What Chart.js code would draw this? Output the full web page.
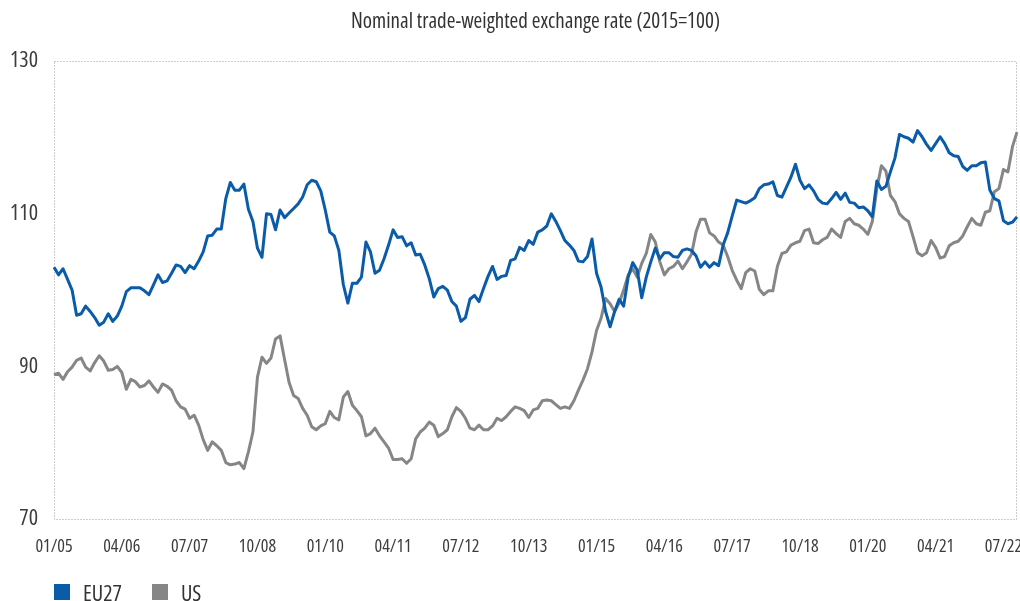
<!DOCTYPE html>
<html>
<head>
<meta charset="utf-8">
<script src="https://cdn.jsdelivr.net/npm/chart.js@4.4.1/dist/chart.umd.min.js"></script>
<style>
  body { margin: 0; background: #fff; }
  #wrap { position: relative; width: 1020px; height: 601px; }
  #legendContainer { position: absolute; left: 54px; top: 577px; }
  .listContainer { display: flex; margin: 0; padding: 0; list-style: none; }
  .legendElement { display: flex; align-items: center; margin-right: 30px; }
  .boxSpan { display: inline-block; width: 16px; height: 16px; margin-right: 13px; }
  .textElement { margin: 0; font-family: "Open Sans", sans-serif; font-stretch: condensed; font-size: 22px; color: #333; }
</style>
</head>
<body>
<div id="wrap">
  <canvas id="fx_chart"></canvas>
  <div id="legendContainer"></div>
</div>
<script>
const months = [];
for (let yr = 5; yr <= 22; yr++) {
  for (let m = 1; m <= 12; m++) {
    if (yr === 22 && m > 10) break;
    months.push(String(m).padStart(2, '0') + '/' + String(yr).padStart(2, '0'));
  }
}

const tickLabels = ['01/05', '04/06', '07/07', '10/08', '01/10', '04/11', '07/12', '10/13',
  '01/15', '04/16', '07/17', '10/18', '01/20', '04/21', '07/22'];
const yTicks = [70, 90, 110, 130];

const eu27 = [
  103.0, 102.0, 102.8, 101.4, 100.0, 96.7, 96.9, 97.9, 97.2, 96.4, 95.4, 95.8,
  96.9, 95.9, 96.6, 97.9, 99.8, 100.3, 100.3, 100.3, 99.9, 99.4, 100.7, 102.0,
  101.0, 101.2, 102.2, 103.3, 103.1, 102.3, 103.2, 102.8, 103.8, 105.0, 107.1, 107.2,
  108.0, 108.0, 112.0, 114.1, 113.1, 113.1, 113.9, 110.6, 109.0, 105.5, 104.3, 110.0,
  109.9, 107.9, 110.5, 109.5, 110.1, 110.7, 111.3, 112.2, 113.8, 114.4, 114.2, 113.0,
  110.5, 107.6, 107.1, 105.2, 100.7, 98.3, 100.9, 100.9, 101.7, 106.3, 105.0, 102.2,
  102.6, 104.1, 105.9, 107.9, 106.9, 107.0, 105.8, 106.2, 104.6, 104.7, 103.3, 101.5,
  99.1, 100.2, 100.5, 100.0, 98.5, 97.9, 95.9, 96.4, 98.8, 99.3, 98.5, 100.2,
  101.8, 103.1, 101.4, 101.8, 101.9, 103.9, 104.1, 105.6, 105.2, 106.5, 106.0, 107.6,
  107.9, 108.4, 110.0, 109.0, 107.8, 106.5, 105.9, 105.2, 103.8, 103.7, 104.4, 106.7,
  102.2, 100.4, 97.2, 95.2, 97.2, 98.8, 97.9, 101.7, 103.6, 102.6, 99.0, 101.7,
  103.7, 105.5, 104.1, 104.9, 104.9, 104.4, 104.3, 105.2, 105.4, 105.2, 104.5, 103.0,
  103.7, 103.0, 103.6, 103.2, 105.9, 107.5, 109.7, 111.8, 111.6, 111.4, 111.7, 112.1,
  113.3, 113.8, 113.9, 114.2, 112.4, 112.2, 113.5, 114.8, 116.5, 114.4, 113.3, 113.8,
  113.0, 111.9, 111.4, 111.3, 112.0, 112.8, 111.9, 112.7, 111.5, 111.4, 110.8, 110.9,
  110.4, 109.6, 114.3, 113.2, 113.6, 115.5, 117.3, 120.4, 120.1, 119.9, 119.4, 120.9,
  120.1, 119.1, 118.3, 119.2, 120.1, 119.2, 118.0, 117.6, 117.5, 116.2, 115.7, 116.3,
  116.3, 116.7, 116.8, 113.1, 112.0, 111.7, 109.1, 108.7, 108.9, 109.6
];

const us = [
  88.9, 89.1, 88.3, 89.3, 89.9, 90.8, 91.1, 89.9, 89.4, 90.5, 91.4, 90.7,
  89.5, 89.6, 90.0, 89.2, 87.0, 88.3, 88.0, 87.3, 87.5, 88.1, 87.3, 86.6,
  87.7, 87.4, 86.9, 85.5, 84.7, 84.4, 83.2, 83.6, 82.3, 80.4, 79.0, 80.1,
  79.6, 79.0, 77.4, 77.1, 77.2, 77.4, 76.6, 78.8, 81.4, 88.6, 91.2, 90.4,
  91.1, 93.6, 94.0, 90.9, 87.9, 86.2, 85.8, 84.5, 83.6, 82.1, 81.7, 82.2,
  82.5, 84.1, 83.3, 83.0, 86.0, 86.7, 84.9, 84.2, 83.4, 80.9, 81.2, 81.9,
  80.9, 80.1, 79.3, 77.8, 77.8, 77.9, 77.3, 77.9, 80.5, 81.4, 81.9, 82.7,
  82.3, 80.8, 81.2, 81.7, 83.4, 84.6, 84.1, 83.2, 81.9, 81.7, 82.3, 81.7,
  81.7, 82.2, 83.2, 82.9, 83.4, 84.1, 84.7, 84.5, 84.2, 83.3, 84.3, 84.5,
  85.5, 85.6, 85.5, 85.0, 84.5, 84.7, 84.5, 85.5, 86.9, 88.2, 89.7, 91.9,
  94.7, 96.3, 98.9, 98.2, 97.2, 98.3, 100.0, 102.0, 102.8, 101.7, 103.5, 104.8,
  107.3, 106.3, 103.7, 102.0, 102.8, 103.1, 103.8, 102.8, 103.7, 104.7, 107.6, 109.3,
  109.3, 107.5, 107.1, 106.3, 105.9, 104.4, 102.6, 101.3, 100.2, 102.3, 102.8, 102.5,
  100.1, 99.4, 99.9, 99.9, 103.1, 104.8, 105.0, 105.9, 106.2, 106.4, 107.8, 108.0,
  106.2, 106.1, 106.6, 106.9, 108.0, 107.4, 106.9, 109.0, 109.4, 108.7, 108.5, 108.0,
  107.3, 109.0, 113.3, 116.3, 115.6, 112.4, 111.6, 110.0, 109.4, 109.0, 107.0, 104.9,
  104.5, 104.9, 106.5, 105.6, 104.2, 104.4, 105.8, 106.2, 106.4, 107.1, 108.3, 109.4,
  108.7, 108.5, 110.2, 110.4, 112.9, 113.3, 115.8, 115.5, 118.8, 120.7
];

const seriesNames = ['EU27', 'US'];
const seriesColors = ['#0a5ca8', '#868688'];

// "condensed" goes in front of the size in the canvas font string
const FONT = { family: '"Open Sans", sans-serif', weight: 'condensed' };

// dotted frame around the plot area
const plotFrame = {
  id: 'plotFrame',
  beforeDatasetsDraw(chart) {
    const { ctx, chartArea: a } = chart;
    ctx.save();
    ctx.strokeStyle = '#9a9a9a';
    ctx.lineWidth = 1;
    ctx.setLineDash([1, 2]);
    ctx.strokeRect(Math.round(a.left) + 0.5, Math.round(a.top) + 0.5,
      Math.round(a.right - a.left) - 1, Math.round(a.bottom - a.top));
    ctx.restore();
  }
};

const htmlLegendPlugin = {
  id: 'htmlLegend',
  afterUpdate(chart, args, options) {
    const box = document.getElementById(options.containerID);
    let ul = box.querySelector('ul');
    if (!ul) {
      ul = document.createElement('ul');
      ul.className = 'listContainer';
      box.appendChild(ul);
    }
    while (ul.firstChild) ul.firstChild.remove();

    const items = chart.options.plugins.legend.labels.generateLabels(chart);
    items.forEach(item => {
      const li = document.createElement('li');
      li.className = 'legendElement';
      const sq = document.createElement('span');
      sq.className = 'boxSpan';
      sq.style.backgroundColor = item.strokeStyle;
      const text = document.createElement('p');
      text.className = 'textElement';
      text.appendChild(document.createTextNode(item.text));
      li.appendChild(sq);
      li.appendChild(text);
      ul.appendChild(li);
    });
  }
};

const fx_chart = new Chart(document.getElementById('fx_chart'), {
  type: 'line',
  data: {
    labels: months,
    datasets: [
      { label: seriesNames[0], data: eu27, borderColor: seriesColors[0], backgroundColor: seriesColors[0] },
      { label: seriesNames[1], data: us, borderColor: seriesColors[1], backgroundColor: seriesColors[1] }
    ]
  },
  options: {
    responsive: true,
    maintainAspectRatio: false,
    animation: false,
    layout: { padding: { top: 0, right: 3, bottom: 39, left: 0 } },
    elements: {
      line: { borderWidth: 3, tension: 0, borderJoinStyle: 'round' },
      point: { radius: 0 }
    },
    plugins: {
      legend: { display: false },
      tooltip: { enabled: false },
      htmlLegend: { containerID: 'legendContainer' },
      title: {
        display: true,
        fullSize: false,
        text: 'Nominal trade-weighted exchange rate (2015=100)',
        color: '#333',
        font: { ...FONT, size: 21 },
        padding: { top: 9, bottom: 27 }
      }
    },
    scales: {
      x: {
        offset: false,
        afterFit(scale) {
          scale.height = 43;
          scale.paddingLeft = 0;
          scale.paddingRight = 0;
        },
        grid: { display: false, drawTicks: false },
        border: { display: false },
        ticks: {
          autoSkip: false,
          maxRotation: 0,
          minRotation: 0,
          padding: 17,
          color: '#3d3d3d',
          font: { ...FONT, size: 18 },
          callback: function (val) {
            const lbl = this.getLabelForValue(val);
            return tickLabels.includes(lbl) ? lbl : '';
          }
        }
      },
      y: {
        min: 70,
        max: 130,
        afterBuildTicks(scale) {
          scale.ticks = yTicks.map(v => ({ value: v }));
        },
        afterFit(scale) {
          scale.width = 54;
        },
        grid: { display: false, drawTicks: false },
        border: { display: false },
        ticks: {
          padding: 16,
          color: '#3d3d3d',
          font: { ...FONT, size: 22 }
        }
      }
    }
  },
  plugins: [plotFrame, htmlLegendPlugin]
});
</script>
</body>
</html>
